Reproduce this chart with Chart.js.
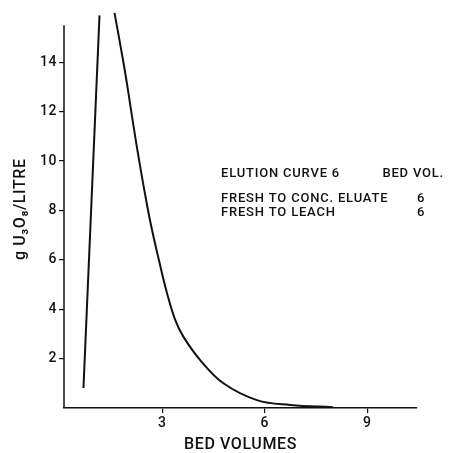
<!DOCTYPE html>
<html>
<head>
<meta charset="utf-8">
<script src="https://cdn.jsdelivr.net/npm/chart.js@4"></script>
<style>
    html, body { margin: 0; padding: 0; background: #fff; }
    #wrap { width: 455px; height: 453px; }
</style>
</head>
<body>
<div id="wrap"><canvas id="elutionChart" width="455" height="453"></canvas></div>
<script>
// Rising front of the elution peak (bed volumes, g U3O8/litre)
const riseX = [0.69, 1.16];
const riseY = [0.81, 15.9];

// Falling tail of the elution peak
const fallX = [1.6, 1.85, 2.01, 2.16, 2.32, 2.49, 2.68, 2.9, 3.14, 3.38, 3.62, 4.11, 4.79, 5.77, 6.75, 8.0];
const fallY = [16.0, 14.08, 12.73, 11.38, 10.03, 8.69, 7.33, 5.99, 4.64, 3.56, 2.88, 1.94, 1.0, 0.32, 0.12, 0.03];

// Tick labels
const xTicks = [3, 6, 9];
const yTicks = [2, 4, 6, 8, 10, 12, 14];

// Annotation block
const noteTitle = ['ELUTION CURVE 6', 'BED VOL.'];
const noteRows = [
    ['FRESH TO CONC. ELUATE', '6'],
    ['FRESH TO LEACH', '6']
];

const ink = '#111';
const fontFamily = 'Roboto, "Liberation Sans", Arial, sans-serif';

const toPoints = (xs, ys) => xs.map((x, i) => ({ x: x, y: ys[i] }));

// Draws the y axis line (shorter than the plot area) and the text block
const extrasPlugin = {
    id: 'extras',
    beforeDraw(chart) {
        chart.ctx.letterSpacing = '0.6px'; // stencil lettering is spaced out
    },
    afterDraw(chart) {
        const ctx = chart.ctx;
        const x = chart.scales.x;
        const y = chart.scales.y;
        ctx.save();
        ctx.strokeStyle = ink;
        ctx.lineWidth = 1.5;
        ctx.beginPath();
        ctx.moveTo(x.left, y.getPixelForValue(0));
        ctx.lineTo(x.left, y.getPixelForValue(15.5));
        ctx.stroke();

        ctx.fillStyle = ink;
        ctx.letterSpacing = '0.8px';
        ctx.font = '500 13px ' + fontFamily;
        ctx.textBaseline = 'middle';
        ctx.textAlign = 'left';
        ctx.fillText(noteTitle[0], 221, 174);
        ctx.textAlign = 'right';
        ctx.fillText(noteTitle[1], 444, 174);
        noteRows.forEach((row, i) => {
            const rowY = 199 + i * 14;
            ctx.textAlign = 'left';
            ctx.fillText(row[0], 221, rowY);
            ctx.textAlign = 'center';
            ctx.fillText(row[1], 421, rowY);
        });
        ctx.restore();
    }
};

const lineStyle = {
    borderColor: ink,
    borderWidth: 2,
    pointRadius: 0,
    fill: false
};

new Chart(document.getElementById('elutionChart'), {
    type: 'line',
    data: {
        datasets: [
            Object.assign({ label: 'rise', data: toPoints(riseX, riseY), tension: 0 }, lineStyle),
            Object.assign({ label: 'fall', data: toPoints(fallX, fallY), tension: 0.4 }, lineStyle)
        ]
    },
    options: {
        responsive: false,
        animation: false,
        layout: { padding: { left: 0, right: 38, top: 10, bottom: 0 } },
        plugins: {
            legend: { display: false },
            tooltip: { enabled: false }
        },
        scales: {
            x: {
                type: 'linear',
                min: 0.12,
                max: 10.46,
                afterFit: (scale) => { scale.height = 45; },
                afterBuildTicks: (scale) => { scale.ticks = xTicks.map(v => ({ value: v })); },
                border: { display: true, color: ink, width: 1.5 },
                grid: { drawOnChartArea: false, drawTicks: true, tickLength: 5, color: ink, lineWidth: 1.2 },
                ticks: { color: ink, padding: 2, font: { family: fontFamily, size: 14, weight: 500 } },
                title: {
                    display: true,
                    text: 'BED VOLUMES',
                    color: ink,
                    font: { family: fontFamily, size: 16, weight: 500, lineHeight: 1 },
                    padding: { top: 0, bottom: 0 }
                }
            },
            y: {
                type: 'linear',
                min: 0,
                max: 16.1,
                afterFit: (scale) => { scale.width = 64; },
                afterBuildTicks: (scale) => { scale.ticks = yTicks.map(v => ({ value: v })); },
                border: { display: false },
                grid: { drawOnChartArea: false, drawTicks: true, tickLength: 5, color: ink, lineWidth: 1.2 },
                ticks: { color: ink, padding: 2, font: { family: fontFamily, size: 14, weight: 500 } },
                title: {
                    display: true,
                    text: 'g U₃O₈/LITRE',
                    color: ink,
                    font: { family: fontFamily, size: 16, weight: 500, lineHeight: 1 },
                    padding: { top: 13, bottom: 0 }
                }
            }
        }
    },
    plugins: [extrasPlugin]
});
</script>
</body>
</html>
